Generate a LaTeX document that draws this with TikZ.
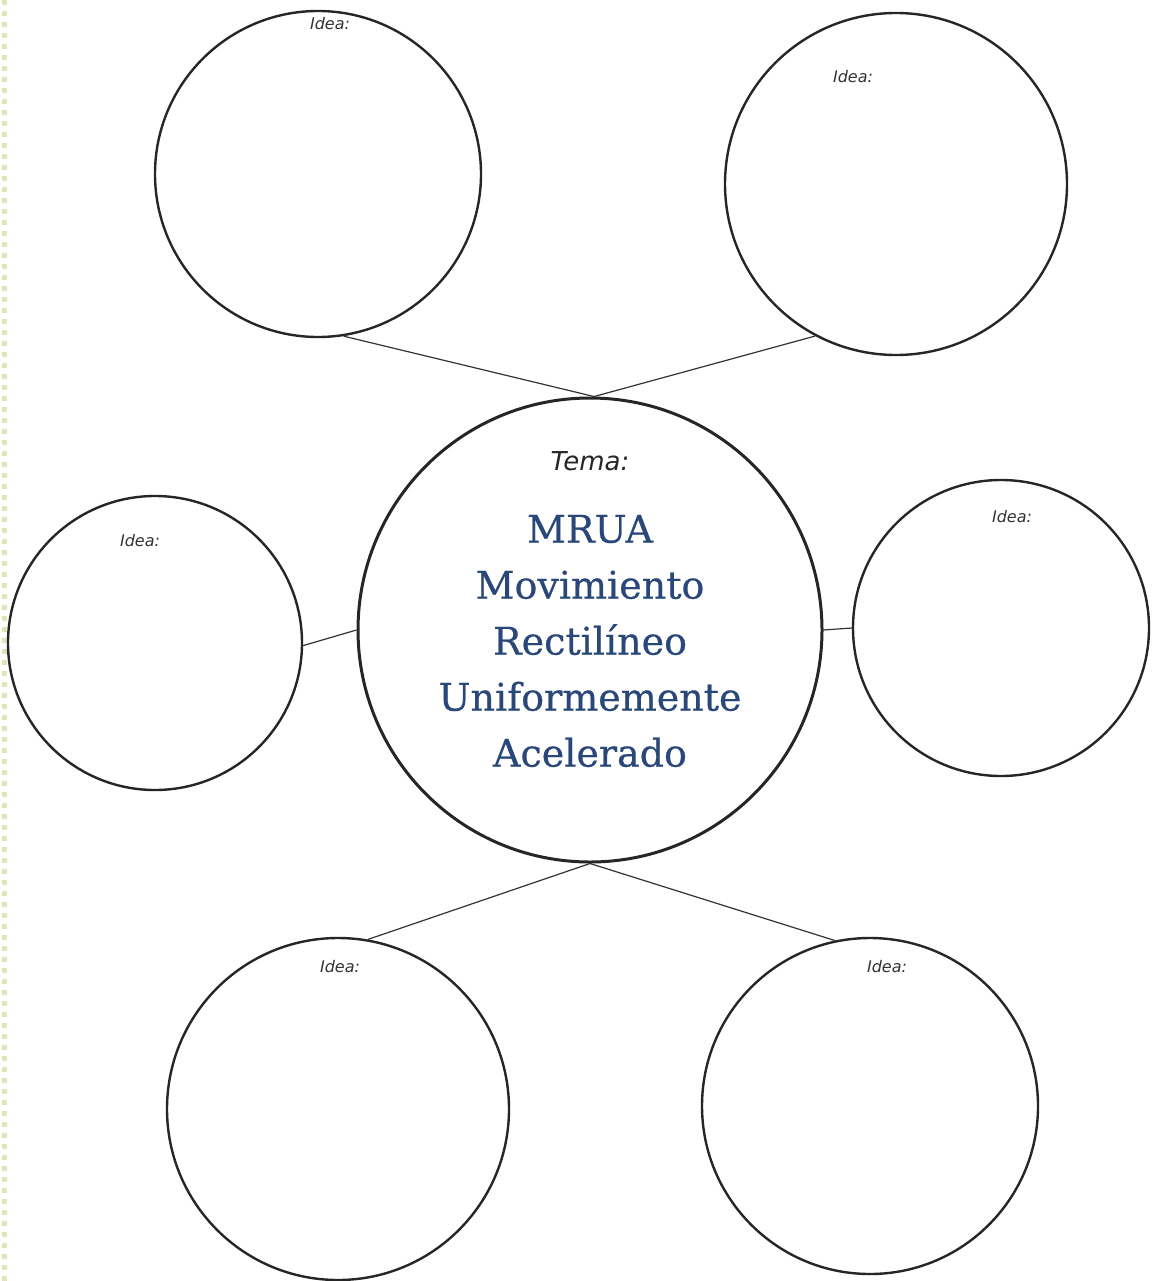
\documentclass[tikz,border=0pt]{standalone}
\usepackage{fontspec}
\newfontfamily\blueserif[FakeBold=0.6]{DejaVu Serif}
\newfontfamily\handfont{DejaVu Sans}
\definecolor{textblue}{HTML}{2A4779}
\definecolor{borderdot}{HTML}{E4E2B8}
\begin{document}
\begin{tikzpicture}[x=1pt,y=-1pt,
  idea/.style={circle,draw=black!85,line width=2.4pt,inner sep=0pt,minimum size=#1},
  link/.style={draw=black!80,line width=1.2pt},
  idealabel/.style={font=\handfont\itshape\fontsize{16}{19}\selectfont,text=black!80},
  temalabel/.style={font=\handfont\itshape\fontsize{26}{30}\selectfont,text=black!85},
  maintext/.style={font=\blueserif\fontsize{38}{56}\selectfont,text=textblue,align=center}]
\useasboundingbox (0,0) rectangle (1161,1281);
\fill[white] (0,0) rectangle (1161,1281);
\draw[borderdot,line width=5pt,dash pattern=on 5pt off 6pt] (4,0) -- (4,1281);
% circles
\node[idea=326pt] (tl) at (318,174) {};
\node[idea=342pt] (tr) at (896,184) {};
\node[idea=464pt,line width=3pt] (c) at (590,630) {};
\node[idea=294pt] (l) at (155,643) {};
\node[idea=296pt] (r) at (1001,628) {};
\node[idea=342pt] (bl) at (338,1109) {};
\node[idea=336pt] (br) at (870,1106) {};
% labels
\node[idealabel] (tll) at (330,24) {Idea:};
\node[idealabel] (trl) at (853,77) {Idea:};
\node[idealabel] (ll) at (140,541) {Idea:};
\node[idealabel] (rl) at (1012,517) {Idea:};
\node[idealabel] (bll) at (340,967) {Idea:};
\node[idealabel] (brl) at (887,967) {Idea:};
\node[temalabel] (tema) at (590,461) {Tema:};
\node[maintext] (mt) at (590,641) {MRUA\\Movimiento\\Rectilíneo\\Uniformemente\\Acelerado};
% connectors
\draw[link] (tl.-81) -- (c.89);
\draw[link] (tr.-118) -- (c.89);
\draw[link] (l.-1) -- (c.180);
\draw[link] (r.180) -- (c.0);
\draw[link] (bl.80) -- (c.-90);
\draw[link] (br.102) -- (c.-90);
\end{tikzpicture}
\end{document}
